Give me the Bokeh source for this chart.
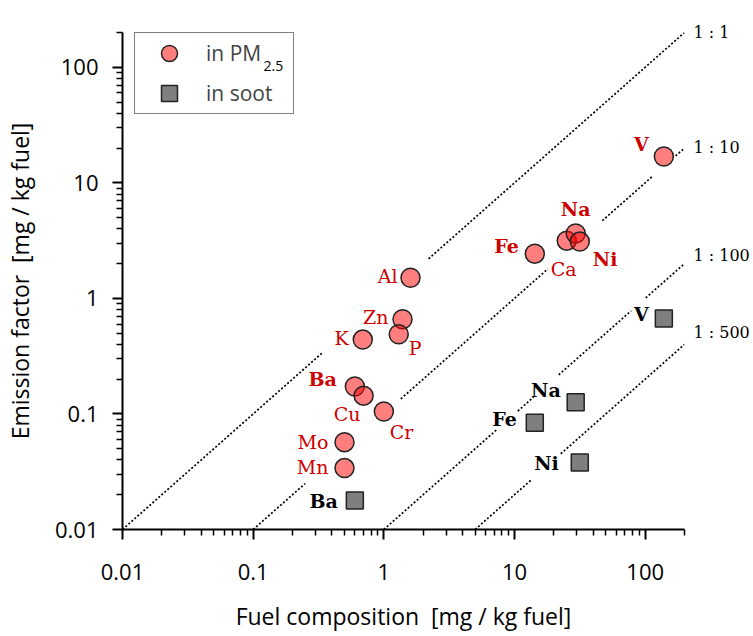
import numpy as np
from bokeh.plotting import figure
from bokeh.models import (ColumnDataSource, Range1d, Legend, LegendItem, Label,
                          FixedTicker, CustomJSTickFormatter, LogAxis)
from bokeh.core.properties import value
from bokeh.embed import file_html
from bokeh.resources import INLINE

# ---------------- data ----------------
pm_elements = ["Al", "Zn", "P", "K", "Ba", "Cu", "Cr", "Mo", "Mn", "Fe", "Ca", "Na", "Ni", "V"]
pm_fuel = [1.6, 1.39, 1.30, 0.69, 0.60, 0.70, 1.0, 0.50, 0.50, 14.3, 25.1, 29.4, 31.6, 139]
pm_emission = [1.51, 0.66, 0.49, 0.44, 0.173, 0.144, 0.105, 0.057, 0.034, 2.44, 3.16, 3.64, 3.10, 16.9]
pm_bold = ["Ba", "Fe", "Na", "Ni", "V"]

soot_elements = ["V", "Na", "Fe", "Ni", "Ba"]
soot_fuel = [139, 29.4, 14.3, 31.6, 0.60]
soot_emission = [0.669, 0.126, 0.084, 0.038, 0.0178]

ratios = [1, 10, 100, 500]
ratio_labels = ["1 : 1", "1 : 10", "1 : 100", "1 : 500"]

x_ticks = [0.01, 0.1, 1, 10, 100]
y_ticks = [0.01, 0.1, 1, 10, 100]

# ---------------- layout helpers (label offsets in px: dx, dy screen-down, align) ----------------
pm_label_pos = {
    "Al": (-13, -2, "right"), "Zn": (-14, -2, "right"), "P": (10, 14, "left"),
    "K": (-14, -2, "right"), "Ba": (-18, -7, "right"), "Cu": (-3, 18, "right"),
    "Cr": (6, 21, "left"), "Mo": (-16, 0, "right"), "Mn": (-16, -1, "right"),
    "Fe": (-16, -8, "right"), "Ca": (-3, 28, "center"), "Na": (0, -25, "center"),
    "Ni": (13, 17, "left"), "V": (-15, -13, "right"),
}
soot_label_pos = {
    "V": (-15, -5, "right"), "Na": (-15, -12, "right"), "Fe": (-18, -4, "right"),
    "Ni": (-21, 0, "right"), "Ba": (-17, 0, "right"),
}
# visible pieces of each dotted ratio line (x extents); gaps leave room for labels
ratio_segments = {
    1: [(0.01, 0.34), (2.2, 200)],
    10: [(0.1, 0.25), (1.35, 18), (47, 114), (171, 200)],
    100: [(1, 7.4), (10.6, 14), (21.8, 78), (101, 200)],
    500: [(5, 13.3), (22.6, 200)],
}
ratio_label_lift_px = [0, 1, 8, 12]

X0, X1 = 0.01, 200
Y0, Y1 = 0.01, 200
FRAME_H = 497  # px between y=0.01 and y=200

p = figure(width=753, height=636, x_axis_type="log", y_axis_type="log",
           x_range=Range1d(X0, X1), y_range=Range1d(Y0, Y1),
           output_backend="svg", toolbar_location=None,
           min_border_left=122, min_border_right=69, min_border_top=32, min_border_bottom=107)
p.outline_line_color = None
p.xgrid.visible = False
p.ygrid.visible = False
p.background_fill_color = "white"

# ratio lines
xs, ys = [], []
for r in ratios:
    for a, b in ratio_segments[r]:
        xs.append([a, b])
        ys.append([a / r, b / r])
p.multi_line(xs, ys, line_color="black", line_width=1.7, line_dash="2 2")

# ratio labels drawn as a bare right-hand axis next to the line ends
px_per_decade = FRAME_H / np.log10(Y1 / Y0)
ratio_label_y = [min(Y1, (X1 / r) * 10 ** (d / px_per_decade))
                 for r, d in zip(ratios, ratio_label_lift_px)]
label_map = {f"{v:.6g}": t for v, t in zip(ratio_label_y, ratio_labels)}
rax = LogAxis(ticker=FixedTicker(ticks=sorted(float(f"{v:.6g}") for v in ratio_label_y),
                                 minor_ticks=[]),
              formatter=CustomJSTickFormatter(args=dict(m=label_map),
                                              code="return m[String(tick)] || '';"),
              axis_line_color=None, major_tick_line_color=None, minor_tick_line_color=None,
              major_tick_in=0, major_tick_out=0, minor_tick_in=0, minor_tick_out=0,
              major_label_standoff=9, major_label_text_font="DejaVu Serif",
              major_label_text_font_size="16px", major_label_text_color="black")
p.add_layout(rax, "right")

# markers
pm_src = ColumnDataSource(dict(
    x=pm_fuel, y=pm_emission, name=pm_elements,
    dx=[pm_label_pos[e][0] for e in pm_elements],
    dy=[pm_label_pos[e][1] for e in pm_elements],
    align=[pm_label_pos[e][2] for e in pm_elements],
    style=["bold" if e in pm_bold else "normal" for e in pm_elements],
))
soot_src = ColumnDataSource(dict(
    x=soot_fuel, y=soot_emission, name=soot_elements,
    dx=[soot_label_pos[e][0] for e in soot_elements],
    dy=[soot_label_pos[e][1] for e in soot_elements],
    align=[soot_label_pos[e][2] for e in soot_elements],
))

r_pm = p.scatter("x", "y", source=pm_src, marker="circle", size=19,
                 fill_color="red", fill_alpha=0.5, line_color="#222222", line_width=1.5)
r_soot = p.scatter("x", "y", source=soot_src, marker="square", size=17,
                   fill_color="#7f7f7f", line_color="#222222", line_width=1.5)

p.text("x", "y", text="name", source=pm_src, x_offset="dx", y_offset="dy",
       text_align="align", text_baseline="middle", text_font_style="style",
       text_font=value("DejaVu Serif"), text_font_size="19px", text_color="#cc0000")
p.text("x", "y", text="name", source=soot_src, x_offset="dx", y_offset="dy",
       text_align="align", text_baseline="middle", text_font_style="bold",
       text_font=value("DejaVu Serif"), text_font_size="19px", text_color="black")

# axes
minor = [m * 10.0 ** e for e in range(-2, 3) for m in range(2, 10)]
fmt = CustomJSTickFormatter(code="return String(tick);")
for ax, ticks in ((p.xaxis[0], x_ticks), (p.yaxis[0], y_ticks)):
    ax.ticker = FixedTicker(ticks=ticks, minor_ticks=minor)
    ax.formatter = fmt
    ax.axis_line_width = 2
    ax.axis_line_color = "black"
    ax.major_tick_in = 0
    ax.major_tick_out = 10
    ax.minor_tick_in = 0
    ax.minor_tick_out = 6
    ax.major_tick_line_width = 2
    ax.minor_tick_line_width = 1.5
    ax.major_label_text_font = "Open Sans"
    ax.major_label_text_font_size = "22px"
    ax.major_label_text_color = "black"
    ax.axis_label_text_font = "Open Sans"
    ax.axis_label_text_font_size = "23px"
    ax.axis_label_text_font_style = "normal"
    ax.axis_label_text_color = "black"

p.xaxis[0].axis_label = "Fuel composition \u00a0[mg / kg fuel]"
p.yaxis[0].axis_label = "Emission factor \u00a0[mg / kg fuel]"
p.xaxis[0].major_label_standoff = 24
p.xaxis[0].axis_label_standoff = 17
p.yaxis[0].major_label_standoff = 14
p.yaxis[0].axis_label_standoff = 16

# legend
legend = Legend(items=[LegendItem(label="in PM", renderers=[r_pm]),
                       LegendItem(label="in soot", renderers=[r_soot])],
                location=(12, 415), orientation="vertical",
                glyph_width=68, glyph_height=40, spacing=0, padding=0, margin=0,
                label_standoff=3, label_width=87,
                label_text_font="Open Sans", label_text_font_size="21px",
                border_line_color="black", border_line_width=1.5,
                background_fill_alpha=0)
p.add_layout(legend, "center")
p.add_layout(Label(x=141, y=464, x_units="screen", y_units="screen", text="2.5",
                   text_font="Open Sans", text_font_size="14px", text_baseline="alphabetic",
                   text_color="black"))

open("out.html", "w").write(file_html(p, INLINE))
